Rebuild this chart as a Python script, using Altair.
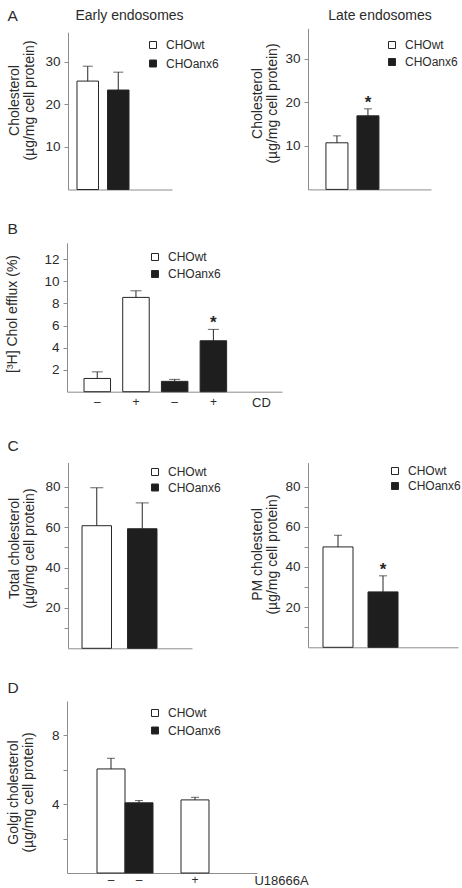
import altair as alt
import pandas as pd

FONT = "Liberation Sans"
W, H = 462, 888
DARK = "#262626"
GREY = "#8c8c8c"
TXT = "#2b2b2b"

GENO = ["CHOwt", "CHOanx6"]
FILLS = ["#ffffff", "#1e1e1e"]

# ---------------- data ----------------
# A: early endosomes
ae_keys = ["wt", "anx"]
ae_geno = ["CHOwt", "CHOanx6"]
ae_mean = [25.5, 23.4]
ae_upper = [29.0, 27.6]
ae_sig = [0, 0]
# A: late endosomes
al_keys = ["wt", "anx"]
al_domain = ["wt", "anx", "pad"]
al_geno = ["CHOwt", "CHOanx6"]
al_mean = [10.7, 16.9]
al_upper = [12.3, 18.5]
al_sig = [0, 1]
# B: [3H] cholesterol efflux, -/+ CD
b_keys = ["wt_noCD", "wt_CD", "anx_noCD", "anx_CD"]
b_labels = ["–", "+", "–", "+"]
b_geno = ["CHOwt", "CHOwt", "CHOanx6", "CHOanx6"]
b_mean = [1.2, 8.55, 0.94, 4.62]
b_upper = [1.8, 9.15, 1.12, 5.65]
b_sig = [0, 0, 0, 1]
# C: total cholesterol
ct_keys = ["wt", "anx"]
ct_geno = ["CHOwt", "CHOanx6"]
ct_mean = [60.7, 59.2]
ct_upper = [79.5, 72.0]
ct_sig = [0, 0]
# C: PM cholesterol
cp_keys = ["wt", "anx"]
cp_geno = ["CHOwt", "CHOanx6"]
cp_mean = [50.0, 27.6]
cp_upper = [55.8, 35.6]
cp_sig = [0, 1]
# D: Golgi cholesterol, -/+ U18666A
d_domain = ["wt_no", "anx_no", "gap", "wt_U", "pad"]
d_domain_labels = ["–", "–", "", "+", ""]
d_keys = ["wt_no", "anx_no", "wt_U"]
d_geno = ["CHOwt", "CHOanx6", "CHOwt"]
d_mean = [6.05, 4.08, 4.25]
d_upper = [6.67, 4.21, 4.40]
d_sig = [0, 0, 0]


def frame(keys, geno, mean, upper, sig):
    return pd.DataFrame({"key": keys, "geno": geno, "mean": mean,
                         "upper": upper, "sig": sig})


def label_expr(keys, labels):
    expr = "''"
    for k, l in reversed(list(zip(keys, labels))):
        expr = f"datum.value === '{k}' ? '{l}' : ({expr})"
    return expr


def panel(df, x_domain, x_range, p_in, p_out, p_align,
          y_domain, y_range, y_values, y_title, y_title_x, y_title_y,
          legend_x, legend_y, legend_rowpad, cap_size,
          y_label_expr=None, letter=None, letter_y=None,
          heading=None, heading_x=None,
          x_labels=None, x_label_pad=5, x_title=None, x_title_x=None,
          x_title_y=None):
    xs = alt.Scale(domain=x_domain, range=x_range, paddingInner=p_in,
                   paddingOuter=p_out, align=p_align)
    ys = alt.Scale(domain=y_domain, range=y_range, nice=False, zero=True)
    fs = alt.Scale(domain=GENO, range=FILLS)

    yax = dict(orient="left", offset=-x_range[0], values=y_values, tickSize=4,
               labelPadding=4, labelFontSize=13.5, title=y_title,
               titleX=y_title_x, titleY=y_title_y, titleAngle=270,
               titleAlign="center", titleBaseline="alphabetic",
               titleFontSize=14, titleLineHeight=15)
    if y_label_expr:
        yax["labelExpr"] = y_label_expr

    xax = dict(orient="bottom", offset=y_range[0] - H, ticks=False,
               labels=x_labels is not None, labelPadding=x_label_pad,
               labelFontSize=12, labelAngle=0)
    if x_labels:
        xax["labelExpr"] = label_expr(x_domain, x_labels)
    if x_title:
        xax.update(title=x_title, titleX=x_title_x, titleY=x_title_y,
                   titleAngle=0, titleAlign="center", titleBaseline="top",
                   titleFontSize=13)
    else:
        xax["title"] = None

    leg = alt.Legend(orient="none", legendX=legend_x, legendY=legend_y,
                     title=None, symbolType="square", symbolSize=49,
                     symbolStrokeColor=DARK, symbolStrokeWidth=1,
                     labelFontSize=12, labelOffset=7, padding=0,
                     rowPadding=legend_rowpad, labelColor=TXT)

    bars = alt.Chart().mark_bar(stroke=DARK, strokeWidth=1).encode(
        x=alt.X("key:N", scale=xs, axis=alt.Axis(**xax)),
        y=alt.Y("mean:Q", scale=ys, axis=alt.Axis(**yax)),
        fill=alt.Fill("geno:N", scale=fs, legend=leg),
    )

    if heading:
        head_axis = alt.Axis(orient="top", offset=0, domain=False, ticks=False,
                             labels=False, title=heading, titleX=heading_x,
                             titleY=19, titleAngle=0, titleAlign="center",
                             titleBaseline="alphabetic", titleFontSize=14)
    else:
        head_axis = None
    err = alt.Chart().mark_rule(color=DARK, strokeWidth=1).encode(
        x=alt.X("key:N", scale=xs, axis=head_axis),
        y=alt.Y("mean:Q", scale=ys, axis=None),
        y2="upper:Q",
    )

    if letter:
        letter_axis = alt.Axis(orient="left", offset=0, domain=False,
                               ticks=False, labels=False, title=letter,
                               titleX=7, titleY=letter_y, titleAngle=0,
                               titleAlign="left", titleBaseline="alphabetic",
                               titleFontSize=15.5)
    else:
        letter_axis = None
    caps = alt.Chart().mark_tick(orient="horizontal", size=cap_size,
                                 thickness=1, color=DARK).encode(
        x=alt.X("key:N", scale=xs, axis=None),
        y=alt.Y("upper:Q", scale=ys, axis=letter_axis),
    )

    stars = alt.Chart().transform_filter("datum.sig == 1").mark_text(
        text="*", fontSize=17, fontWeight="bold", baseline="alphabetic",
        dy=-1, color=DARK
    ).encode(
        x=alt.X("key:N", scale=xs, axis=None),
        y=alt.Y("upper:Q", scale=ys, axis=None),
    )

    return alt.layer(bars, err, caps, stars, data=df).resolve_axis(
        x="independent", y="independent")


pA1 = panel(frame(ae_keys, ae_geno, ae_mean, ae_upper, ae_sig),
            ae_keys, [68, 172], 0.295, 0.852, 0.173,
            [0, 37], [189.5, 32.2], [10, 20, 30],
            ["Cholesterol", "(µg/mg cell protein)"], -50, 100,
            147, 39, 6.5, 10,
            letter="A", letter_y=20, heading="Early endosomes", heading_x=129)

pA2 = panel(frame(al_keys, al_geno, al_mean, al_upper, al_sig),
            al_domain, [308, 431], 0.29, 0.629, 0.46,
            [0, 37], [189.4, 28.3], [10, 20, 30],
            ["Cholesterol", "(µg/mg cell protein)"], -47, 103,
            386, 39, 5, 8,
            heading="Late endosomes", heading_x=379.5)

pB = panel(frame(b_keys, b_geno, b_mean, b_upper, b_sig),
           b_keys, [67, 282], 0.315, 0.935, 0.235,
           [0, 13.5], [391.7, 242.8], [2, 4, 6, 8, 10, 12],
           "[³H] Chol efflux  (%)", -51, 313.5,
           149, 251, 5, 11,
           letter="B", letter_y=233,
           x_labels=b_labels, x_title="CD", x_title_x=261, x_title_y=5)

pC1 = panel(frame(ct_keys, ct_geno, ct_mean, ct_upper, ct_sig),
            ct_keys, [68, 192], 0.352, 0.539, 0.286,
            [0, 92], [648.3, 462.5], [10, 20, 30, 40, 50, 60, 70, 80],
            ["Total cholesterol", "(µg/mg cell protein)"], -50, 548,
            149, 466, 3.5, 13,
            y_label_expr="datum.value % 20 === 0 ? datum.label : ''",
            letter="C", letter_y=450)

pC2 = panel(frame(cp_keys, cp_geno, cp_mean, cp_upper, cp_sig),
            cp_keys, [308, 458], 0.333, 0.833, 0.2,
            [0, 92], [647.3, 462.6], [10, 20, 30, 40, 50, 60, 70, 80],
            ["PM cholesterol", "(µg/mg cell protein)"], -47, 554,
            389, 465, 3, 8,
            y_label_expr="datum.value % 20 === 0 ? datum.label : ''")

pD = panel(frame(d_keys, d_geno, d_mean, d_upper, d_sig),
           d_domain, [67, 257], 0.0, 0.893, 0.6,
           [0, 10], [873.0, 701.0], [2, 4, 6, 8],
           ["Golgi cholesterol", "(µg/mg cell protein)"], -50, 792,
           149, 707, 5.5, 8,
           y_label_expr="datum.value % 4 === 0 ? datum.label : ''",
           letter="D", letter_y=692,
           x_labels=d_domain_labels, x_label_pad=1, x_title="U18666A",
           x_title_x=281, x_title_y=1)

chart = alt.layer(pA1, pA2, pB, pC1, pC2, pD).resolve_scale(
    x="independent", y="independent", fill="independent"
).properties(
    width=W, height=H, autosize="none", padding=0, background="white"
).configure(font=FONT).configure_view(stroke=None).configure_axis(
    grid=False, labelFont=FONT, titleFont=FONT, labelColor=TXT,
    titleColor=TXT, domainColor=GREY, tickColor=GREY,
    titleFontWeight="normal"
).configure_legend(labelFont=FONT).configure_text(font=FONT)

chart.save("out.html", embed_options={"renderer": "svg", "actions": False})
